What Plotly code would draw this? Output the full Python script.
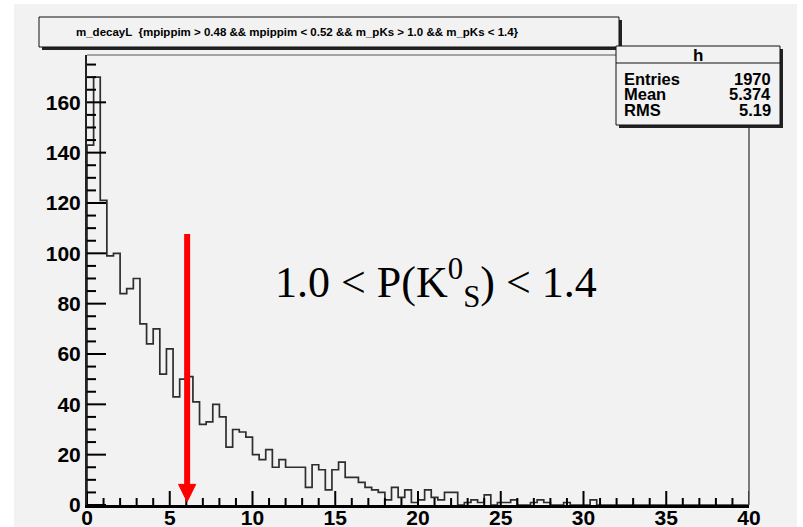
import numpy as np
import plotly.graph_objects as go

# ---- histogram contents: m_decayL, 100 bins over [0, 40] ----
bin_lo, bin_hi, n_bins = 0.0, 40.0, 100
counts = [
    143, 170, 121, 99, 100, 84, 86, 90, 72, 64,
    70, 52, 62, 43, 50, 51, 41, 32, 33, 40,
    35, 23, 30, 29, 27, 20, 18, 22, 15, 18,
    15, 15, 15, 7, 16, 14, 6, 14, 17, 11,
    11, 9, 7, 6, 5, 2, 7, 3, 6, 1,
    2, 6, 3, 2, 5, 5, 0, 1, 2, 1,
    4, 0, 1, 1, 2, 0, 0, 1, 2, 1,
    0, 0, 1, 0, 0, 0, 2, 0, 0, 0,
    0, 0, 0, 0, 0, 0, 0, 0, 0, 0,
    0, 0, 0, 0, 0, 0, 0, 0, 0, 0,
]
hist_name = "h"
stats_labels = ["Entries", "Mean", "RMS"]
stats_values = ["1970", "5.374", "5.19"]
title_text = "m_decayL  {mpippim > 0.48 && mpippim < 0.52 && m_pKs > 1.0 && m_pKs < 1.4}"
cut_label = "1.0 < P(K<sup>0</sup><sub>S</sub>) < 1.4"

# cut marker arrow (data units)
arrow_x = 6.05
arrow_top = 107.7
arrow_tip = 1.3
head_len = 6.9
head_half = 0.52

x_major, x_minor = 5, 1
y_major, y_minor = 20, 5
y_max = 178.8

# ---- canvas geometry ----
W, H = 803, 527
ML, MR, MT, MB = 87, 54, 55, 22
PW, PH = W - ML - MR, H - MT - MB
BG = "#f2f2f2"


def px_x(px):
    return (px - ML) / PW


def px_y(py):
    return (H - MB - py) / PH


edges = np.linspace(bin_lo, bin_hi, n_bins + 1)
step_x = np.concatenate([[edges[0]], edges]).tolist()
step_y = [0] + counts + [counts[-1]]

# tick marks pointing into the frame, as line segments in data units
x_per_px = (bin_hi - bin_lo) / PW
y_per_px = y_max / PH
tx, ty = [], []
for k in range(int(round((bin_hi - bin_lo) / x_minor)) + 1):
    v = bin_lo + k * x_minor
    major = (k * x_minor) % x_major == 0
    tx += [v, v, None]
    ty += [0.0, (14 if major else 7) * y_per_px, None]
for k in range(int(y_max // y_minor) + 1):
    v = k * y_minor
    major = v % y_major == 0
    tx += [bin_lo, bin_lo + (19 if major else 9) * x_per_px, None]
    ty += [v, v, None]

fig = go.Figure()
fig.add_trace(go.Scatter(
    x=step_x, y=step_y, mode="lines", line_shape="hv",
    line=dict(color="#2e2e2e", width=1.7), hoverinfo="skip", showlegend=False,
))
fig.add_trace(go.Scatter(
    x=tx, y=ty, mode="lines", line=dict(color="black", width=2),
    connectgaps=False, hoverinfo="skip", showlegend=False,
))

shapes = []
# canvas background
shapes.append(dict(type="rect", xref="paper", yref="paper", layer="below",
                   x0=px_x(14), x1=px_x(797), y0=px_y(H + 2), y1=px_y(4),
                   fillcolor=BG, line=dict(width=0)))
# frame (top / right)
shapes.append(dict(type="line", xref="paper", yref="paper", layer="above",
                   x0=0, x1=1, y0=1, y1=1, line=dict(color="#555555", width=1.2)))
shapes.append(dict(type="line", xref="paper", yref="paper", layer="above",
                   x0=1, x1=1, y0=0, y1=1, line=dict(color="#555555", width=1.5)))


def boxed(x0, y0, x1, y1):
    # box with a drop shadow on its right and bottom edges
    shapes.append(dict(type="rect", xref="paper", yref="paper", layer="above",
                       x0=px_x(x0 + 3), x1=px_x(x1 + 3), y0=px_y(y1 + 3), y1=px_y(y0 + 3),
                       fillcolor="#222222", line=dict(width=0)))
    shapes.append(dict(type="rect", xref="paper", yref="paper", layer="above",
                       x0=px_x(x0), x1=px_x(x1), y0=px_y(y1), y1=px_y(y0),
                       fillcolor=BG, line=dict(color="#111111", width=1)))


boxed(39, 17, 619, 47)
boxed(616, 46, 780, 125)
shapes.append(dict(type="line", xref="paper", yref="paper", layer="above",
                   x0=px_x(616), x1=px_x(780), y0=px_y(63), y1=px_y(63),
                   line=dict(color="#111111", width=1)))

# red cut arrow
shapes.append(dict(type="line", xref="x", yref="y", layer="above",
                   x0=arrow_x, x1=arrow_x, y0=arrow_tip + head_len - 0.5, y1=arrow_top,
                   line=dict(color="#ff0000", width=6)))
shapes.append(dict(type="path", xref="x", yref="y", layer="above",
                   path=f"M {arrow_x - head_half} {arrow_tip + head_len} "
                        f"L {arrow_x + head_half} {arrow_tip + head_len} "
                        f"L {arrow_x} {arrow_tip} Z",
                   fillcolor="#ff0000", line=dict(color="#ff0000", width=1)))

bold = dict(family="Liberation Sans, Arial, sans-serif", color="black", weight="bold")

annotations = [
    dict(text=title_text, xref="paper", yref="paper", x=px_x(297), y=px_y(32),
         xanchor="center", yanchor="middle", showarrow=False,
         font=dict(size=11.5, **bold)),
    dict(text=hist_name, xref="paper", yref="paper", x=px_x(698), y=px_y(55),
         xanchor="center", yanchor="middle", showarrow=False,
         font=dict(size=17, **bold)),
    dict(text=cut_label, xref="x", yref="y", x=11.25, y=88.2,
         xanchor="left", yanchor="middle", showarrow=False,
         font=dict(size=44, family="Liberation Serif, Times New Roman, serif", color="black")),
]
for i, (lab, val) in enumerate(zip(stats_labels, stats_values)):
    yc = px_y(79 + 15.4 * i)
    annotations.append(dict(text=lab, xref="paper", yref="paper", x=px_x(622), y=yc,
                            xanchor="left", yanchor="middle", showarrow=False,
                            font=dict(size=16.5, **bold)))
    annotations.append(dict(text=val, xref="paper", yref="paper", x=px_x(773), y=yc,
                            xanchor="right", yanchor="middle", showarrow=False,
                            font=dict(size=16.5, **bold)))

fig.update_layout(
    template="none",
    width=W, height=H,
    margin=dict(l=ML, r=MR, t=MT, b=MB, pad=0),
    paper_bgcolor="white", plot_bgcolor="rgba(0,0,0,0)",
    shapes=shapes, annotations=annotations, showlegend=False,
    xaxis=dict(range=[bin_lo, bin_hi], tickmode="linear", tick0=0, dtick=x_major,
               ticks="", ticklen=0,
               showgrid=False, zeroline=False, showline=True, linecolor="black", linewidth=2.5,
               automargin=False, tickfont=dict(size=21, **bold), ticklabelstandoff=-8),
    yaxis=dict(range=[0, y_max], tickmode="linear", tick0=0, dtick=y_major,
               ticks="", ticklen=0,
               showgrid=False, zeroline=False, showline=True, linecolor="#222222", linewidth=2,
               automargin=False, tickfont=dict(size=21, **bold), ticklabelstandoff=0),
)

fig.write_html("out.html")
